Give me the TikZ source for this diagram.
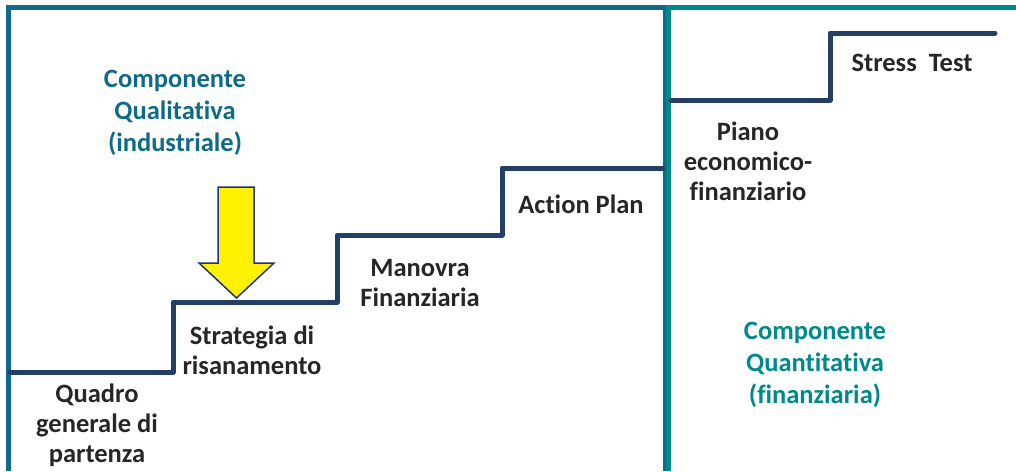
\documentclass[tikz,border=0pt]{standalone}
\usepackage{fontspec}
\setmainfont{Carlito}[Ligatures=NoCommon]
\usetikzlibrary{calc, positioning}
\definecolor{qualblue}{HTML}{0F6A89}
\definecolor{quantteal}{HTML}{00898A}
\definecolor{stairnavy}{HTML}{243F66}
\definecolor{txtgray}{HTML}{262626}
\tikzset{stair/.style = {draw=stairnavy, line width=5pt, line join=round, line cap=round}}
\tikzset{lbl-k/.style = {align=center, inner sep=0pt, text=txtgray, font=\bfseries\fontsize{26.5}{30}\selectfont}}
\tikzset{lbl-c/.style = {align=center, inner sep=0pt, font=\bfseries\fontsize{26.5}{32}\selectfont}}

\begin{document}
\begin{tikzpicture}[x=1pt, y=-1pt]
  \useasboundingbox (0,0) rectangle (1016,471);
  % frames
  \draw[qualblue, line width=5pt] (8,471) -- (8,7) -- (665,7) -- (665,471);
  \draw[quantteal, line width=5pt] (668.5,471) -- (668.5,7) -- (1016,7);
  % stairs
  \path (10,372) coordinate (s0)
        (173,302) coordinate (s1)
        (337,235) coordinate (s2)
        (502,168) coordinate (s3)
        (663,168) coordinate (s4)
        (671,100) coordinate (r0)
        (830,33) coordinate (r1)
        (995,33) coordinate (r2);
  \draw[stair] (s0) -| (s1) -| (s2) -| (s3) -- (s4);
  \draw[stair] (r0) -| (r1) -- (r2);
  % labels
  \node[lbl-c, text=qualblue] (qual) at (175,113) {Componente\\Qualitativa\\(industriale)};
  \node[lbl-c, text=quantteal] (quant) at (815,365) {Componente\\Quantitativa\\(finanziaria)};
  \node[lbl-k] (quadro) at (97,425) {Quadro\\generale di\\partenza};
  \node[lbl-k] (strat) at (252,350) {Strategia di\\risanamento};
  \node[lbl-k] (manovra) at (420,283) {Manovra\\Finanziaria};
  \node[lbl-k] (action) at (581,204) {Action Plan};
  \node[lbl-k] (piano) at (748,161) {Piano\\economico-\\finanziario};
  \node[lbl-k] (stress) at (912,63) {Stress\ \ Test};
  % arrow
  \draw[fill=yellow, draw=stairnavy!80!blue, line width=1.5pt, line join=miter]
    (218,187) -- (254,187) -- (254,263) -- (274,263) -- (236.5,298)
    -- (199,263) -- (218,263) -- cycle;
\end{tikzpicture}
\end{document}
